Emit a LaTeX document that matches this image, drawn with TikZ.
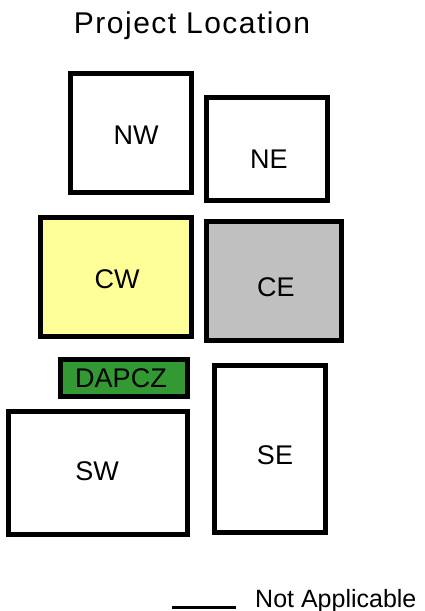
\documentclass[tikz,border=0pt]{standalone}
\usepackage{fontspec}
\setmainfont{Liberation Sans}
\newfontfamily\titlefont[LetterSpace=5]{Liberation Sans}
\usepackage{xcolor}
\usepackage{tikz}
\usetikzlibrary{positioning}

\definecolor{cwyellow}{HTML}{FFFF99}
\definecolor{cegray}{HTML}{C0C0C0}
\definecolor{dapgreen}{HTML}{339933}

\begin{document}
\begin{tikzpicture}[
    x=1pt, y=-1pt,
    zone/.style={rectangle, draw=black, line width=5pt, fill=#1, inner sep=0pt},
    zone/.default=white,
    zonetext/.style={font=\fontsize{27}{29}\selectfont, inner sep=0pt},
    title/.style={font=\titlefont\fontsize{30}{32}\selectfont, inner sep=0pt},
    legendtext/.style={font=\fontsize{25}{27}\selectfont, inner sep=0pt}
]
\useasboundingbox (0,0) rectangle (424,611);

% ---- Title ----
\node[title, anchor=base] (title) at (192,33) {Project Location};

% ---- Zones ----
\node[zone, minimum width=121pt, minimum height=119pt] (nw) at (131,133) {};
\node[zone, minimum width=121pt, minimum height=103pt] (ne) at (267,149) {};
\node[zone=cwyellow, minimum width=151pt, minimum height=119pt] (cw) at (116,277) {};
\node[zone=cegray, minimum width=135pt, minimum height=119pt] (ce) at (274,281) {};
\node[zone=dapgreen, minimum width=127pt, minimum height=37pt] (dapcz) at (124,378) {};
\node[zone, minimum width=111pt, minimum height=167pt] (se) at (270,449) {};
\node[zone, minimum width=179pt, minimum height=123pt] (sw) at (98,473) {};

% ---- Zone labels ----
\node[zonetext] (nwlbl) at (136,135) {NW};
\node[zonetext] (nelbl) at (269,159) {NE};
\node[zonetext] (cwlbl) at (117,279) {CW};
\node[zonetext] (celbl) at (276,287) {CE};
\node[zonetext] (dapczlbl) at (121,378) {DAPCZ};
\node[zonetext] (selbl) at (275,455) {SE};
\node[zonetext] (swlbl) at (97,471) {SW};

% ---- Legend ----
\coordinate (nastart) at (172,607);
\coordinate (naend) at (236,607);
\draw[line width=3pt] (nastart) -- (naend);
\node[legendtext, anchor=base west] (nalbl) at (255,607) {Not Applicable};

\end{tikzpicture}
\end{document}
